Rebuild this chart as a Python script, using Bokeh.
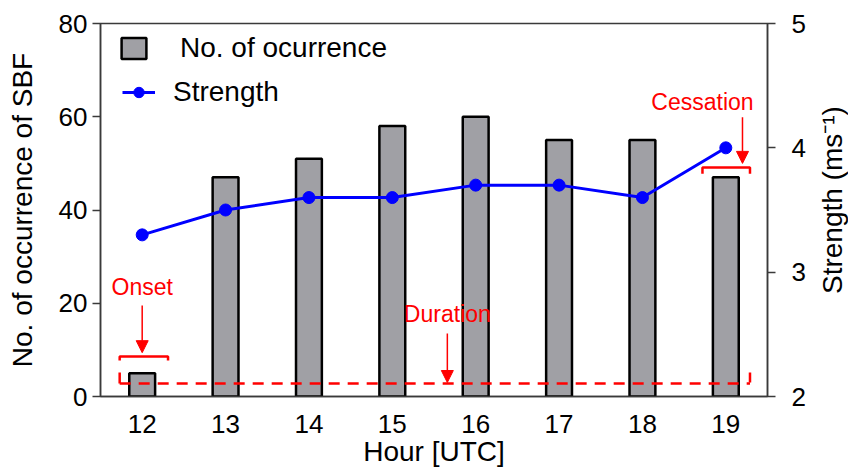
import math
from bokeh.plotting import figure
from bokeh.layouts import row
from bokeh.models import (Range1d, LinearAxis, FixedTicker, Legend, LegendItem,
                          Arrow, NormalHead)
from bokeh.core.properties import value
from bokeh.embed import file_html
from bokeh.resources import INLINE

# Sea-breeze front statistics per hour
hours = [12, 13, 14, 15, 16, 17, 18, 19]
occurrence = [5, 47, 51, 58, 60, 55, 55, 47]
strength = [3.3, 3.5, 3.6, 3.6, 3.7, 3.7, 3.6, 4.0]
left_ticks = [0, 20, 40, 60, 80]
right_ticks = [2, 3, 4, 5]

FONT = "Liberation Sans"
RED = "#ff0000"
AXIS_COL = "#3a3a3a"

p = figure(width=815, height=469, output_backend="svg", toolbar_location=None,
           x_range=Range1d(11.5, 19.5), y_range=Range1d(0, 80),
           min_border_left=100, min_border_right=48, min_border_top=23,
           min_border_bottom=73)
p.xgrid.visible = False
p.ygrid.visible = False
p.outline_line_color = AXIS_COL
p.outline_line_width = 1.5
p.background_fill_color = "white"
p.border_fill_color = "white"

# Secondary axis for strength
p.extra_y_ranges = {"strength": Range1d(2, 5)}

bars = p.vbar(x=hours, top=occurrence, width=0.31, bottom=0,
              fill_color="#a0a0a5", line_color="black", line_width=2.5)
line = p.line(x=hours, y=strength, y_range_name="strength",
              line_color="#0000ff", line_width=3)
dots = p.scatter(x=hours, y=strength, y_range_name="strength",
                 marker="circle", size=12, fill_color="#0000ff",
                 line_color="#0000ff")

# Axes styling
def style_axis(ax, size="26px"):
    ax.axis_line_color = AXIS_COL
    ax.axis_line_width = 1.5
    ax.major_tick_line_color = AXIS_COL
    ax.major_tick_line_width = 1.5
    ax.minor_tick_line_color = None
    ax.major_tick_in = 0
    ax.major_tick_out = 8
    ax.major_label_text_font = FONT
    ax.major_label_text_font_size = size
    ax.major_label_text_color = "black"
    ax.axis_label_text_font = FONT
    ax.axis_label_text_font_size = "28px"
    ax.axis_label_text_font_style = "normal"
    ax.axis_label_text_color = "black"

xa = p.xaxis[0]
style_axis(xa)
xa.ticker = FixedTicker(ticks=hours)
xa.major_tick_out = 0
xa.major_label_standoff = 18
xa.axis_label = "Hour [UTC]"
xa.axis_label_standoff = 0

ya = p.yaxis[0]
style_axis(ya)
ya.ticker = FixedTicker(ticks=left_ticks)
ya.major_label_standoff = 5
ya.axis_label = "No. of occurrence of SBF"
ya.axis_label_standoff = 18

ra = LinearAxis(y_range_name="strength", ticker=FixedTicker(ticks=right_ticks))
style_axis(ra)
ra.major_label_standoff = 16
p.add_layout(ra, "right")

# Right-hand title, reading bottom to top, in a narrow strip next to the plot
side = figure(width=33, height=469, output_backend="svg", toolbar_location=None,
              x_range=Range1d(0, 1), y_range=Range1d(0, 469), min_border=0)
side.axis.visible = False
side.grid.visible = False
side.outline_line_color = None
side.background_fill_color = "white"
side.border_fill_color = "white"
side.text(x=[0.5], y=[247], text=["Strength (ms\u207b\u00b9)"], angle=math.pi / 2,
          text_font=value(FONT), text_font_size="28px", text_color="black",
          text_align="center", text_baseline="middle")

# Legends
leg1 = Legend(items=[LegendItem(label="No. of ocurrence", renderers=[bars])],
              location=(18, 332), glyph_width=31, glyph_height=26,
              label_standoff=31, padding=0, margin=0, spacing=0,
              border_line_color=None, background_fill_alpha=0,
              label_text_font=FONT, label_text_font_size="28px",
              label_text_color="black")
leg2 = Legend(items=[LegendItem(label="Strength", renderers=[line, dots])],
              location=(22, 288), glyph_width=33, glyph_height=26,
              label_standoff=18, padding=0, margin=0, spacing=0,
              border_line_color=None, background_fill_alpha=0,
              label_text_font=FONT, label_text_font_size="28px",
              label_text_color="black")
p.add_layout(leg1)
p.add_layout(leg2)

# Annotations: onset, duration and cessation markers
bracket_xs = [[11.73, 11.73, 12.31, 12.31],
              [18.72, 18.72, 19.29, 19.29],
              [11.73, 11.73], [19.29, 19.29]]
bracket_ys = [[7.7, 8.6, 8.6, 7.7],
              [47.8, 49.1, 49.1, 47.8],
              [5.15, 2.8], [5.15, 3.0]]
p.multi_line(xs=bracket_xs, ys=bracket_ys, line_color=RED, line_width=2.5)

p.line(x=[11.73, 19.29], y=[2.8, 2.8],
       line_color=RED, line_width=2.5, line_dash="11 8")

for (xa_, y0, y1) in [(12.0, 19.5, 9.4), (15.66, 13.5, 3.0), (19.2, 59.9, 50.0)]:
    p.add_layout(Arrow(x_start=xa_, y_start=y0, x_end=xa_, y_end=y1,
                       line_color=RED, line_width=1.5,
                       end=NormalHead(size=12, fill_color=RED, line_color=RED)))

p.text(x=[12.0, 15.66, 18.72], y=[23.4, 17.8, 63.1],
       text=["Onset", "Duration", "Cessation"],
       text_font=value(FONT), text_font_size="23px", text_color=RED,
       text_align="center", text_baseline="middle")

layout = row(p, side, spacing=0)
open("out.html", "w").write(file_html(layout, INLINE))
